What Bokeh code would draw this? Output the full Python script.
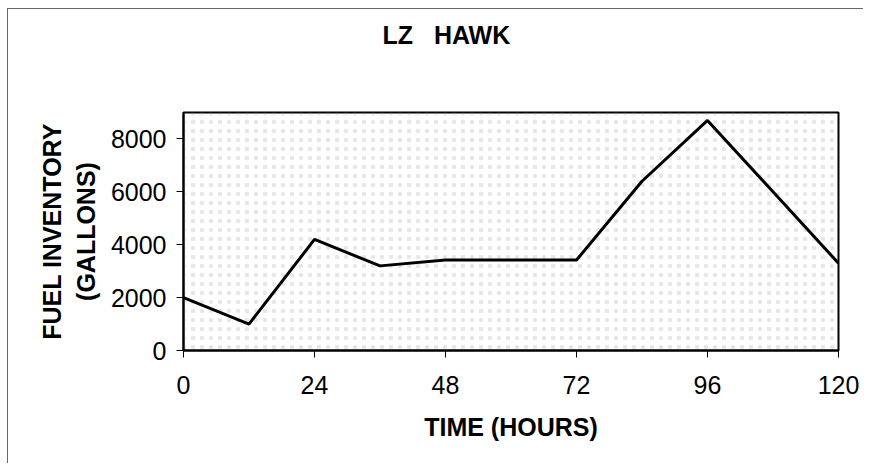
from bokeh.plotting import figure
from bokeh.models import Range1d, FixedTicker, BoxAnnotation, Title
from bokeh.embed import file_html
from bokeh.resources import INLINE

hours = [0, 12, 24, 36, 48, 60, 72, 84, 96, 108, 120]
gallons = [2000, 1000, 4200, 3200, 3420, 3420, 3420, 6400, 8700, 6000, 3300]
x_ticks = [0, 24, 48, 72, 96, 120]
y_ticks = [0, 2000, 4000, 6000, 8000]
title_text = "LZ\u00a0\u00a0\u00a0HAWK"

FONT = "Liberation Sans"

p = figure(width=856, height=455, output_backend="svg", toolbar_location=None,
           x_range=Range1d(0, 120), y_range=Range1d(0, 9000),
           min_border_left=175, min_border_right=26, min_border_top=103, min_border_bottom=114,
           background_fill_color="white", border_fill_color="white",
           styles={"border-left": "1px solid #666", "border-top": "1px solid #666",
                   "margin-left": "7px", "margin-top": "8px"})
p.title = None
# spacer (inner, blank), then the visible title (outer)
p.add_layout(Title(text="\u00a0", standoff=61, text_font_size="1px", text_color="white"), "above")
p.add_layout(Title(text=title_text, align="left", offset=199, text_font=FONT,
                   text_font_size="25px", text_font_style="bold", text_color="black",
                   standoff=0), "above")

stipple = BoxAnnotation(fill_color=None, line_color=None, hatch_pattern="dot",
                        hatch_color="#a0a0a0", hatch_alpha=0.25, hatch_scale=9,
                        level="underlay")
p.add_layout(stipple)

p.line(hours, gallons, line_color="black", line_width=3)

p.xgrid.visible = False
p.ygrid.visible = False
p.outline_line_color = "black"
p.outline_line_width = 2

for ax in (p.xaxis[0], p.yaxis[0]):
    ax.axis_line_color = "black"
    ax.axis_line_width = 2
    ax.major_tick_line_color = "black"
    ax.major_tick_line_width = 1
    ax.major_tick_out = 7
    ax.major_tick_in = 0
    ax.minor_tick_line_color = None
    ax.major_label_text_font = FONT
    ax.major_label_text_font_size = "25px"
    ax.major_label_text_color = "black"
    ax.axis_label_text_font = FONT
    ax.axis_label_text_font_size = "25px"
    ax.axis_label_text_font_style = "bold"
    ax.axis_label_text_color = "black"

p.xaxis[0].ticker = FixedTicker(ticks=x_ticks)
p.yaxis[0].ticker = FixedTicker(ticks=y_ticks)
p.xaxis[0].axis_label = "TIME (HOURS)"
p.yaxis[0].axis_label = "FUEL INVENTORY\n(GALLONS)"
p.xaxis[0].major_label_standoff = 18
p.yaxis[0].major_label_standoff = 10
p.xaxis[0].axis_label_standoff = 16
p.yaxis[0].axis_label_standoff = 8

open("out.html", "w").write(file_html(p, INLINE))
